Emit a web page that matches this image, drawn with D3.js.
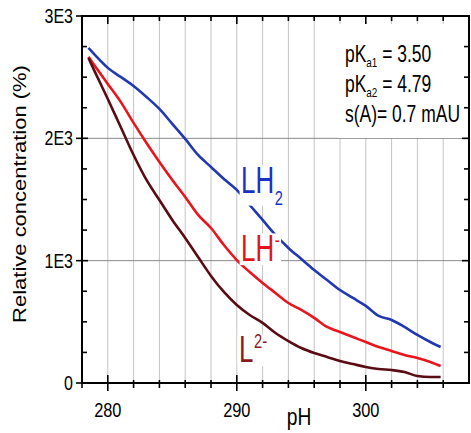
<!DOCTYPE html>
<html>
<head>
<meta charset="utf-8">
<script src="https://cdn.jsdelivr.net/npm/d3@7"></script>
<style>
  body { margin: 0; background: #fff; }
  svg { display: block; font-family: "Liberation Sans", Arial, sans-serif; }
</style>
</head>
<body>
<div id="chart"></div>
<script>
// pH values (x) and the three species curves
const phValues = [278.5, 279, 280, 281, 282, 283, 284, 285, 286, 287, 288, 289, 290, 291, 292,
  293, 294, 295, 296, 297, 298, 299, 300, 301, 302, 303, 304, 305, 305.8];
const lh2 = [2739, 2682, 2576, 2502, 2428, 2338, 2240, 2118, 1995, 1864, 1766, 1668, 1578, 1455, 1333,
  1210, 1104, 1014, 924, 842, 760, 695, 630, 548, 515, 458, 393, 335, 294];
const lh = [2666, 2592, 2445, 2298, 2126, 1962, 1807, 1660, 1521, 1374, 1267, 1128, 1005, 907, 818,
  736, 654, 597, 532, 458, 417, 376, 335, 294, 262, 229, 204, 172, 139];
const l2 = [2657, 2543, 2322, 2093, 1864, 1660, 1496, 1333, 1186, 1030, 875, 744, 638, 556, 491,
  409, 343, 286, 245, 213, 180, 155, 131, 114, 106, 90, 57, 49, 49];
const xTicks = [280, 290, 300];
const yTicks = [0, 1000, 2000, 3000];
const yTickLabels = ["0", "1E3", "2E3", "3E3"];
const notes = [["pK", "a1", " = 3.50"], ["pK", "a2", " = 4.79"], ["s(A)= 0.7 mAU", "", ""]];

const W = 471, H = 433;
const svg = d3.select("#chart").append("svg").attr("width", W).attr("height", H);

const x = d3.scaleLinear().domain([278, 308]).range([82, 469]);
const y = d3.scaleLinear().domain([0, 3000]).range([383, 16]);

// squeezed text helper (the original figure is narrowed horizontally)
function txt(parent, px, py, str, size, anchor, fill, sx) {
  const g = parent.append("g").attr("transform", `translate(${px},${py}) scale(${sx || 0.8},1)`);
  const t = g.append("text").attr("text-anchor", anchor || "start")
    .attr("font-size", size).attr("fill", fill || "#000").text(str);
  return t;
}

// grid
const minorX = d3.range(280, 307, 2);
svg.append("g").selectAll("line").data(minorX).join("line")
  .attr("x1", d => x(d)).attr("x2", d => x(d))
  .attr("y1", y(3000)).attr("y2", y(0))
  .attr("stroke", "#c4c4c4").attr("stroke-width", 1);
svg.append("g").selectAll("line").data([1000, 2000]).join("line")
  .attr("x1", x(278)).attr("x2", x(308))
  .attr("y1", d => y(d)).attr("y2", d => y(d))
  .attr("stroke", "#8a8a8a").attr("stroke-width", 1);

// white box behind annotation
svg.append("rect").attr("x", 338).attr("y", 24).attr("width", 128).attr("height", 114).attr("fill", "#fff");

// curves
const line = d3.line().x((d, i) => x(phValues[i])).y(d => y(d)).curve(d3.curveMonotoneX);
[[lh2, "#2238b2"], [lh, "#e8161c"], [l2, "#5a0c14"]].forEach(([s, c]) => {
  svg.append("path").datum(s).attr("d", line).attr("fill", "none")
    .attr("stroke", c).attr("stroke-width", 2.6).attr("stroke-linejoin", "round");
});

// frame
svg.append("rect").attr("x", x(278)).attr("y", y(3000))
  .attr("width", x(308) - x(278)).attr("height", y(0) - y(3000))
  .attr("fill", "none").attr("stroke", "#000").attr("stroke-width", 2);

// ticks
const ticks = svg.append("g").attr("stroke", "#000").attr("stroke-width", 1.6);
minorX.concat([278]).forEach(v => {
  const major = xTicks.includes(v);
  ticks.append("line").attr("x1", x(v)).attr("x2", x(v))
    .attr("y1", y(0) - (major ? 8 : 3)).attr("y2", y(0) + (major ? 8 : 5));
  ticks.append("line").attr("x1", x(v)).attr("x2", x(v))
    .attr("y1", y(3000)).attr("y2", y(3000) + (major ? 8 : 5));
});
d3.range(0, 3001, 250).forEach(v => {
  const major = v % 1000 === 0;
  ticks.append("line").attr("x1", x(278) - (major ? 6 : 0)).attr("x2", x(278) + (major ? 6 : 5))
    .attr("y1", y(v)).attr("y2", y(v));
  ticks.append("line").attr("x1", x(308)).attr("x2", x(308) - (major ? 7 : 5))
    .attr("y1", y(v)).attr("y2", y(v));
});

// tick labels
xTicks.forEach(v => txt(svg, x(v), 417, String(v), 21, "middle", "#000", 0.78));
yTicks.forEach((v, i) => txt(svg, 73, y(v) + 7, yTickLabels[i], 20, "end", "#000", 0.8));

// axis titles
txt(svg, 299, 425, "pH", 24, "middle", "#000", 0.8);
svg.append("text").attr("transform", "translate(26,194) rotate(-90) scale(1,0.8)")
  .attr("text-anchor", "middle").attr("font-size", 22).text("Relative concentration (%)");

// annotation
notes.forEach((n, i) => {
  const t = txt(svg, 345, 62 + i * 30, n[0], 23, "start", "#000", 0.76);
  if (n[1]) {
    t.append("tspan").attr("font-size", 13).attr("dy", 5).text(n[1]);
    t.append("tspan").attr("dy", -5).text(n[2]);
  }
});

// curve labels with white background
function label(px, py, main, sub, sup, color, sx) {
  const g = svg.append("g").attr("transform", `translate(${px},${py}) scale(${sx},1)`);
  const bg = g.append("rect").attr("fill", "#fff");
  const t = g.append("text").attr("font-size", 37).attr("fill", color).text(main);
  if (sub) t.append("tspan").attr("font-size", 21).attr("dy", 12).attr("dx", 1).text(sub);
  if (sup) t.append("tspan").attr("font-size", 21).attr("dy", -14).attr("dx", 1).text(sup);
  const b = t.node().getBBox();
  bg.attr("x", b.x - 2).attr("y", b.y + 6).attr("width", b.width + 4).attr("height", b.height - 10);
}
label(241, 193, "LH", "2", null, "#1a30c4", 0.7);
label(241, 261, "LH", null, "-", "#e0141a", 0.7);
label(239, 362, "L", null, "2-", "#8a1a1c", 0.7);
</script>
</body>
</html>
